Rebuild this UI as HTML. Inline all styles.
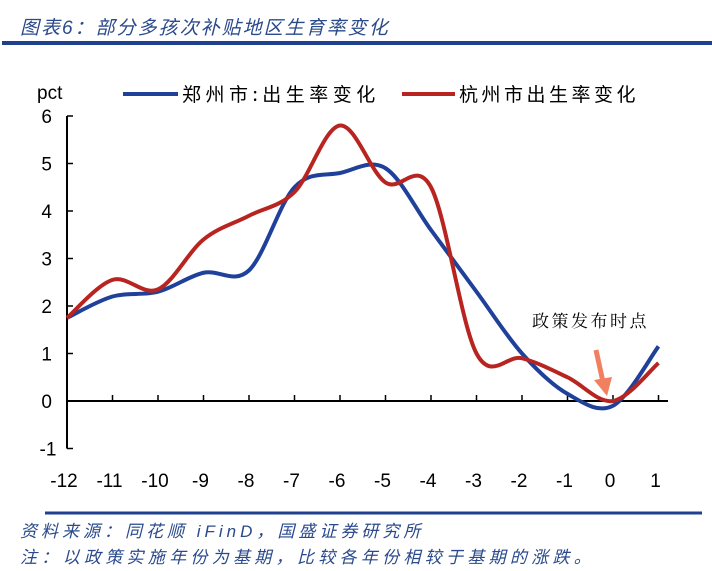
<!DOCTYPE html>
<html><head><meta charset="utf-8"><style>
body{margin:0;width:712px;height:571px;background:#fff;overflow:hidden;position:relative;font-family:"Liberation Sans","Noto Sans CJK SC",sans-serif}
.t{position:absolute;color:#2a4a8c;font-style:italic;font-family:"Liberation Sans","Noto Sans CJK SC",sans-serif;white-space:nowrap}
</style></head><body>
<div class="t" style="left:20px;top:13px;font-size:19px;letter-spacing:2px">图表6：部分多孩次补贴地区生育率变化</div>
<div style="position:absolute;left:2px;width:710px;height:4px;background:#1f3f8f;top:41px"></div>
<svg id="c" width="712" height="571" style="position:absolute;left:0;top:0">
<text x="37" y="99" font-size="19">pct</text>
<line x1="123" y1="94" x2="178" y2="94" stroke="#20419a" stroke-width="4"/>
<text x="182" y="101" font-size="19" font-family="Noto Sans CJK SC,sans-serif" letter-spacing="4.5">郑州市:出生率变化</text>
<line x1="402" y1="94" x2="455" y2="94" stroke="#b82520" stroke-width="4"/>
<text x="459" y="101" font-size="19" font-family="Noto Sans CJK SC,sans-serif" letter-spacing="3.5">杭州市出生率变化</text>
<text x="532" y="327" font-size="17" letter-spacing="2.5" font-family="Noto Serif CJK SC,serif">政策发布时点</text>
<line x1="596" y1="350" x2="603" y2="382" stroke="#f08060" stroke-width="5"/>
<polygon points="594,380 612,377 607,396" fill="#f08060"/>
<line x1="45" y1="513" x2="702" y2="513" stroke="#1f3f8f" stroke-width="3"/>
</svg>
<div class="t" style="left:20px;top:517px;font-size:17px;letter-spacing:4px">资料来源：同花顺 iFinD，国盛证券研究所</div>
<div class="t" style="left:20px;top:543px;font-size:17px;letter-spacing:4.3px">注：以政策实施年份为基期，比较各年份相较于基期的涨跌。</div>
<script>
const categories=[-12,-11,-10,-9,-8,-7,-6,-5,-4,-3,-2,-1,0,1];
const zhengzhou=[1.75,2.2,2.3,2.7,2.75,4.5,4.8,4.9,3.6,2.3,1.0,0.15,-0.1,1.15];
const hangzhou=[1.75,2.55,2.35,3.4,3.9,4.4,5.8,4.6,4.5,1.0,0.9,0.5,0.0,0.8];
const yTicks=[-1,0,1,2,3,4,5,6];
const svg=document.getElementById('c');const NS='http://www.w3.org/2000/svg';
const X=v=>67+(v+12)*45.5;const Y=v=>401-v*47.5;
function mk(t,a){const e=document.createElementNS(NS,t);for(const k in a)e.setAttribute(k,a[k]);svg.appendChild(e);return e;}
let e=mk('line',{x1:67,y1:Y(6),x2:67,y2:Y(-1),stroke:'#000','stroke-width':2});


e=mk('line',{x1:67,y1:Y(0),x2:668,y2:Y(0),stroke:'#000','stroke-width':2});


yTicks.forEach(v=>{let t=mk('line',{x1:67,y1:Y(v),x2:73,y2:Y(v),stroke:'#000','stroke-width':1.5});


let l=mk('text',{x:v<0?48:52,y:Y(v)+7,'font-size':19,'text-anchor':v<0?'middle':'end'});l.textContent=v;

});
categories.forEach(c=>{if(c>-12){let t=mk('line',{x1:X(c),y1:Y(0),x2:X(c),y2:Y(0)-6,stroke:'#000','stroke-width':1.5});

}
let l=mk('text',{x:X(c)-3,y:487,'font-size':19,'text-anchor':'middle'});l.textContent=c;

});
function path(vals){const p=vals.map((v,i)=>[X(categories[i]),Y(v)]);let d='M'+p[0];
for(let i=0;i<p.length-1;i++){const p0=p[i-1]||p[i],p1=p[i],p2=p[i+1],p3=p[i+2]||p2;
d+=` C${p1[0]+(p2[0]-p0[0])/6},${p1[1]+(p2[1]-p0[1])/6} ${p2[0]-(p3[0]-p1[0])/6},${p2[1]-(p3[1]-p1[1])/6} ${p2[0]},${p2[1]}`;}return d;}
e=mk('path',{d:path(zhengzhou),fill:'none',stroke:'#20419a','stroke-width':4});


e=mk('path',{d:path(hangzhou),fill:'none',stroke:'#b82520','stroke-width':4});


</script>
</body></html>
